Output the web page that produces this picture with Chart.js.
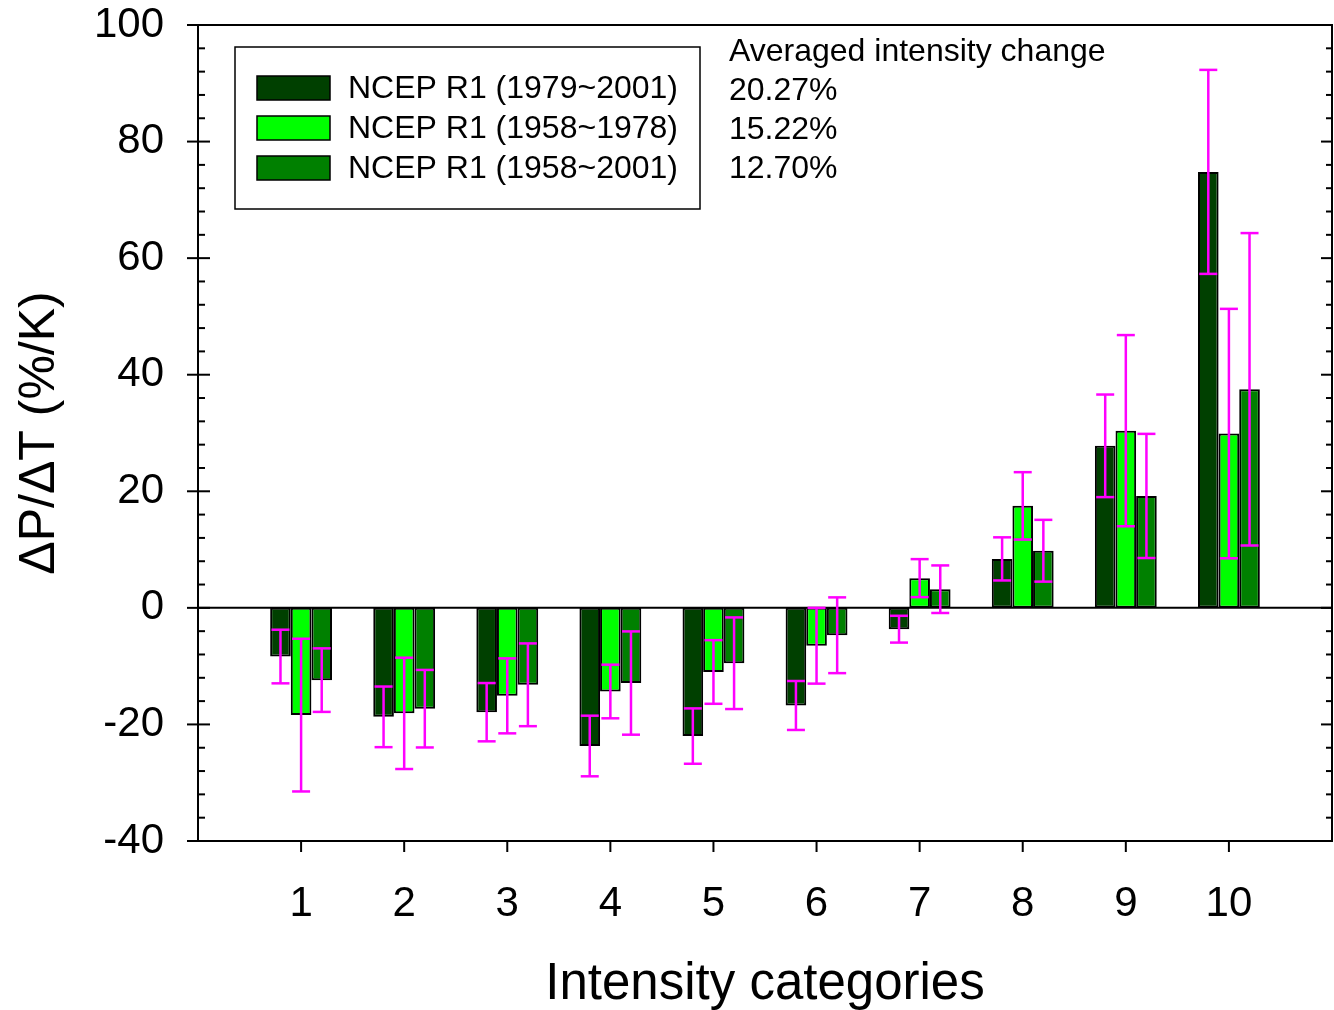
<!DOCTYPE html>
<html>
<head>
<meta charset="utf-8">
<script src="https://cdn.jsdelivr.net/npm/chart.js@4.4.0/dist/chart.umd.min.js"></script>
<style>
  body { margin: 0; background: #fff; }
</style>
</head>
<body>
<canvas id="intensityChart" width="1334" height="1010"></canvas>
<script>
// values
const categories = [1, 2, 3, 4, 5, 6, 7, 8, 9, 10];
const seriesNames = ['NCEP R1 (1979~2001)', 'NCEP R1 (1958~1978)', 'NCEP R1 (1958~2001)'];
const r1Late = [-8.35, -18.7, -17.9, -23.7, -22.0, -16.75, -3.66, 8.4, 27.8, 74.8];
const r1LateErr = [4.6, 5.2, 5.0, 5.2, 4.75, 4.2, 2.3, 3.7, 8.8, 17.5];
const r1Early = [-18.4, -18.1, -15.1, -14.35, -11.0, -6.5, 5.1, 17.5, 30.4, 29.9];
const r1EarlyErr = [13.1, 9.55, 6.43, 4.6, 5.46, 6.5, 3.26, 5.78, 16.4, 21.4];
const r1All = [-12.4, -17.3, -13.2, -12.9, -9.5, -4.7, 3.2, 9.8, 19.2, 37.5];
const r1AllErr = [5.45, 6.65, 7.1, 8.86, 7.86, 6.5, 4.08, 5.3, 10.65, 26.8];
const avgTitle = 'Averaged intensity change';
const avgChange = ['20.27%', '15.22%', '12.70%'];

const FONT = "'Liberation Sans', Arial, sans-serif";
const colors = ['#004000', '#00ff00', '#008000'];

function toPoints(vals) {
    return vals.map((v, i) => ({x: categories[i], y: v}));
}

function seg(ctx, x1, y1, x2, y2) {
    ctx.beginPath();
    ctx.moveTo(x1, y1);
    ctx.lineTo(x2, y2);
    ctx.stroke();
}

const decorations = {
    id: 'decorations',
    afterDatasetsDraw(chart) {
        const {ctx, chartArea: a, scales: {y}} = chart;
        ctx.save();
        // zero line
        ctx.strokeStyle = '#000';
        ctx.lineWidth = 2;
        const y0 = y.getPixelForValue(0);
        seg(ctx, a.left, y0, a.right, y0);
        // error bars
        ctx.strokeStyle = '#ff00ff';
        ctx.lineWidth = 2.5;
        chart.data.datasets.forEach((ds, i) => {
            chart.getDatasetMeta(i).data.forEach((bar, j) => {
                const v = ds.data[j].y, e = ds.err[j];
                const t = y.getPixelForValue(v + e);
                const b = y.getPixelForValue(v - e);
                seg(ctx, bar.x, t, bar.x, b);
                seg(ctx, bar.x - 9, t, bar.x + 9, t);
                seg(ctx, bar.x - 9, b, bar.x + 9, b);
            });
        });
        ctx.restore();
    },
    afterDraw(chart) {
        const {ctx, chartArea: a, scales: {x, y}} = chart;
        ctx.save();
        ctx.strokeStyle = '#000';
        ctx.lineWidth = 2;
        ctx.strokeRect(a.left, a.top, a.right - a.left, a.bottom - a.top);
        // y ticks, major and minor
        for (let v = -40; v <= 100; v += 4) {
            const py = y.getPixelForValue(v);
            if (v % 20 === 0) {
                seg(ctx, a.left - 11, py, a.left + 12, py);
                seg(ctx, a.right - 11, py, a.right, py);
            } else {
                seg(ctx, a.left, py, a.left + 7, py);
                seg(ctx, a.right - 6, py, a.right, py);
            }
        }
        // x ticks
        categories.forEach(c => {
            const px = x.getPixelForValue(c);
            seg(ctx, px, a.bottom, px, a.bottom + 11);
        });
        // legend
        ctx.lineWidth = 1.5;
        ctx.strokeRect(235, 47, 465, 162);
        ctx.font = '32px ' + FONT;
        ctx.textBaseline = 'middle';
        ctx.fillStyle = '#000';
        chart.data.datasets.forEach((ds, i) => {
            const ry = 88 + i * 40;
            ctx.fillStyle = ds.backgroundColor;
            ctx.fillRect(257, ry - 12, 73, 24);
            ctx.strokeRect(257, ry - 12, 73, 24);
            ctx.fillStyle = '#000';
            ctx.fillText(ds.label, 348, ry + 1);
        });
        ctx.fillText(avgTitle, 729, 52);
        avgChange.forEach((t, i) => ctx.fillText(t, 729, 91 + i * 39));
        ctx.restore();
    }
};

const data = {
    datasets: [
        {label: seriesNames[0], data: toPoints(r1Late), err: r1LateErr},
        {label: seriesNames[1], data: toPoints(r1Early), err: r1EarlyErr},
        {label: seriesNames[2], data: toPoints(r1All), err: r1AllErr}
    ].map((ds, i) => Object.assign(ds, {
        backgroundColor: colors[i],
        borderColor: '#000',
        borderWidth: 2,
        borderSkipped: false,
        categoryPercentage: 0.6,
        barPercentage: 1.0
    }))
};

const config = {
    type: 'bar',
    data,
    plugins: [decorations],
    options: {
        responsive: false,
        animation: false,
        layout: {padding: {top: 25, right: 2, left: 0, bottom: 0}},
        scales: {
            x: {
                type: 'linear',
                min: 0,
                max: 11,
                offset: false,
                grid: {display: false, drawTicks: false, tickLength: 0},
                border: {display: false},
                ticks: {
                    stepSize: 1,
                    padding: 38,
                    color: '#000',
                    font: {family: FONT, size: 42},
                    callback: v => (v >= 1 && v <= 10) ? String(v) : ''
                },
                title: {
                    display: true,
                    text: 'Intensity categories',
                    color: '#000',
                    font: {family: FONT, size: 51, lineHeight: 1},
                    padding: {top: 0, bottom: 0}
                },
                afterFit: s => {
                    s.height = 169;
                    s.paddingLeft = 0;
                    s.paddingRight = 0;
                }
            },
            y: {
                min: -40,
                max: 100,
                grid: {display: false, drawTicks: false, tickLength: 0},
                border: {display: false},
                ticks: {
                    stepSize: 20,
                    padding: 34,
                    color: '#000',
                    font: {family: FONT, size: 42}
                },
                title: {
                    display: true,
                    text: 'ΔP/ΔT (%/K)',
                    color: '#000',
                    font: {family: FONT, size: 50, lineHeight: 1},
                    padding: {top: 15, bottom: 0}
                },
                afterFit: s => {
                    s.width = 198;
                    s.paddingTop = 0;
                    s.paddingBottom = 0;
                }
            }
        },
        plugins: {
            legend: {display: false},
            tooltip: {enabled: false}
        }
    }
};

new Chart(document.getElementById('intensityChart'), config);
</script>
</body>
</html>
